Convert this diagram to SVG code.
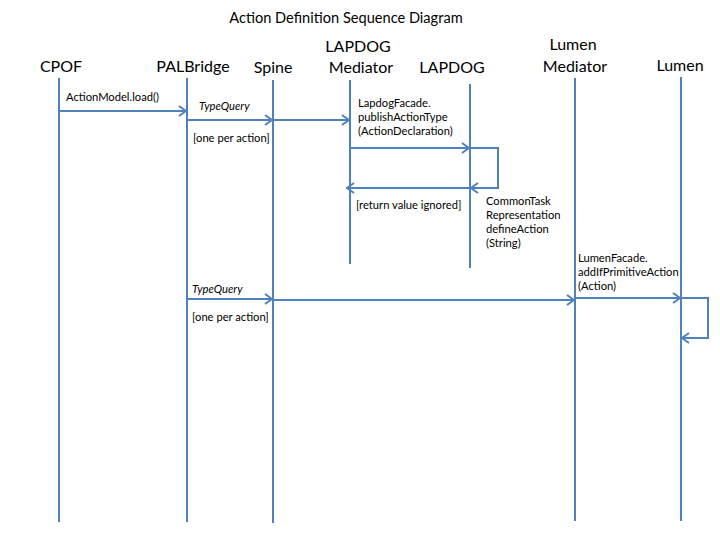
<svg xmlns="http://www.w3.org/2000/svg" width="720" height="540" viewBox="0 0 720 540">
<style>
.ll{stroke:#4f81bd;stroke-width:2;fill:none}
.msg{stroke:#4f81bd;stroke-width:2;fill:none;marker-end:url(#arr)}
.hd{font-family:Lato,"Open Sans",sans-serif;font-size:16px;fill:#000;text-anchor:middle}
.t{font-family:Lato,"Open Sans",sans-serif;font-size:11.2px;fill:#000}
.it{font-style:italic}
.title{font-family:Lato,"Open Sans",sans-serif;font-size:14.6px;fill:#000;text-anchor:middle}
</style>
<defs>
<marker id="arr" markerWidth="12" markerHeight="12" refX="10" refY="6" orient="auto" markerUnits="userSpaceOnUse">
<path d="M3,1 L10,6 L3,11" fill="none" stroke="#4f81bd" stroke-width="2"/>
</marker>
</defs>
<rect width="720" height="540" fill="#fff"/>
<text class="title" x="346" y="23">Action Definition Sequence Diagram</text>
<g id="CPOF"><text class="hd" x="61" y="72">CPOF</text><line class="ll" x1="59" y1="78" x2="59" y2="522"/></g>
<g id="PALBridge"><text class="hd" x="193" y="72">PALBridge</text><line class="ll" x1="187" y1="78" x2="187" y2="522"/></g>
<g id="Spine"><text class="hd" x="273" y="73">Spine</text><line class="ll" x1="273" y1="80" x2="273" y2="523"/></g>
<g id="LAPDOGMediator"><text class="hd" x="358" y="52">LAPDOG</text><text class="hd" x="361" y="73">Mediator</text><line class="ll" x1="350" y1="80" x2="350" y2="264"/></g>
<g id="LAPDOG"><text class="hd" x="452" y="73">LAPDOG</text><line class="ll" x1="470" y1="84" x2="470" y2="268"/></g>
<g id="LumenMediator"><text class="hd" x="573" y="50">Lumen</text><text class="hd" x="575" y="72">Mediator</text><line class="ll" x1="575" y1="78" x2="575" y2="521"/></g>
<g id="Lumen"><text class="hd" x="680" y="71">Lumen</text><line class="ll" x1="681" y1="77" x2="681" y2="521"/></g>
<g id="connectors">
<line class="msg" x1="59" y1="111" x2="186" y2="111"/>
<line class="msg" x1="187" y1="120" x2="272" y2="120"/>
<line class="msg" x1="273" y1="120" x2="349" y2="120"/>
<line class="msg" x1="350" y1="148" x2="469" y2="148"/>
<polyline class="msg" points="470,148 498,148 498,188 471,188"/>
<line class="msg" x1="470" y1="188" x2="347" y2="188"/>
<line class="msg" x1="187" y1="299" x2="272" y2="299"/>
<line class="msg" x1="273" y1="300" x2="574" y2="300"/>
<line class="msg" x1="575" y1="298" x2="680" y2="298"/>
<polyline class="msg" points="681,298 708,298 708,338 682,338"/>
</g>
<g id="labels">
<text class="t" x="66" y="101">ActionModel.load()</text>
<text class="t it" x="199" y="110">TypeQuery</text>
<text class="t" x="193" y="142">[one per action]</text>
<text class="t" x="358" y="107">LapdogFacade.</text>
<text class="t" x="358" y="121">publishActionType</text>
<text class="t" x="358" y="135">(ActionDeclaration)</text>
<text class="t" x="356" y="209">[return value ignored]</text>
<text class="t" x="486" y="205">CommonTask</text>
<text class="t" x="486" y="219">Representation</text>
<text class="t" x="486" y="233">defineAction</text>
<text class="t" x="486" y="247">(String)</text>
<text class="t" x="578" y="262">LumenFacade.</text>
<text class="t" x="578" y="276">addIfPrimitiveAction</text>
<text class="t" x="578" y="290">(Action)</text>
<text class="t it" x="192" y="293">TypeQuery</text>
<text class="t" x="192" y="321">[one per action]</text>
</g>
</svg>
